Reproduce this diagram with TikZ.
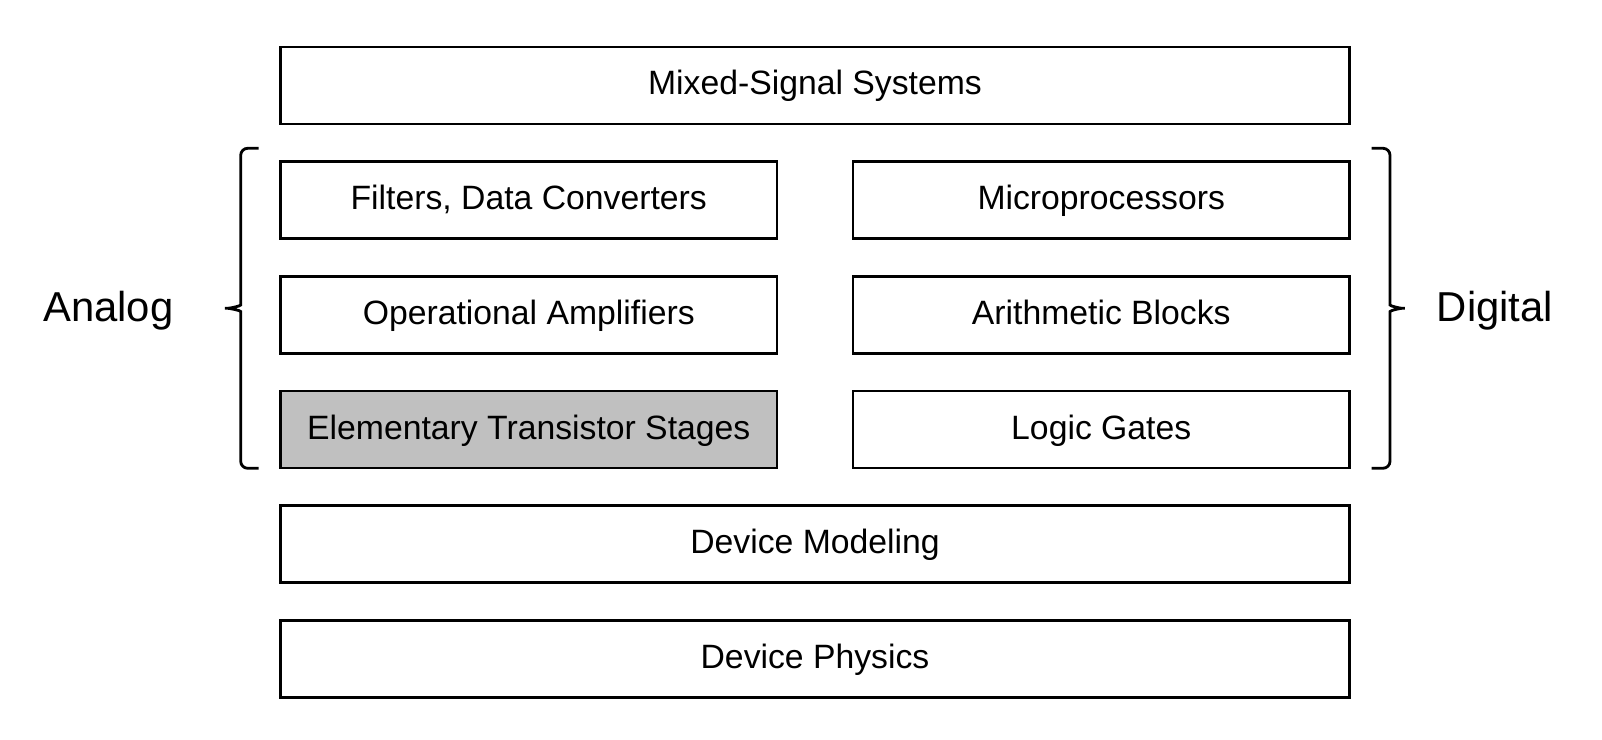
\documentclass[tikz,border=0pt]{standalone}
\usepackage{fontspec}
\setmainfont{Liberation Sans}
\usepackage{xcolor}
\usepackage{tikz}
\usetikzlibrary{positioning,calc}
\definecolor{stagegray}{HTML}{C0C0C0}

\begin{document}
\begin{tikzpicture}[
    level/.style={draw, line width=0.8pt, inner sep=0pt, minimum height=0.77cm,
        text height=0.75em, text depth=0.21em, font=\fontsize{9.6}{11.5}\selectfont},
    wide/.style={level, minimum width=10.69cm},
    half/.style={level, minimum width=4.965cm},
    side/.style={font=\fontsize{11.9}{14}\selectfont, anchor=base},
    brace/.style={line width=0.8pt, rounded corners=2pt}
]
    \useasboundingbox (0,0) rectangle (16.02,7.40);

    % System level
    \node[wide] (mixed) at (8.15,6.545) {Mixed-Signal Systems};

    % Analog column
    \node[half] (filters) at (5.2875,5.398) {Filters, Data Converters};
    \node[half] (opamps) at (5.2875,4.251) {Operational Amplifiers};
    \node[half, fill=stagegray] (stages) at (5.2875,3.104) {Elementary Transistor Stages};

    % Digital column
    \node[half] (micro) at (11.0125,5.398) {Microprocessors};
    \node[half] (arith) at (11.0125,4.251) {Arithmetic Blocks};
    \node[half] (gates) at (11.0125,3.104) {Logic Gates};

    % Device levels
    \node[wide] (model) at (8.15,1.957) {Device Modeling};
    \node[wide] (physics) at (8.15,0.810) {Device Physics};

    % Braces
    \draw[brace] (2.587,5.917) -- (2.407,5.917) -- (2.407,4.42)
        .. controls (2.407,4.34) and (2.30,4.317) .. (2.207,4.317)
        .. controls (2.30,4.317) and (2.407,4.294) .. (2.407,4.214)
        -- (2.407,2.717) -- (2.587,2.717);
    \draw[brace] (13.717,5.917) -- (13.90,5.917) -- (13.90,4.42)
        .. controls (13.90,4.34) and (14.00,4.317) .. (14.09,4.317)
        .. controls (14.00,4.317) and (13.90,4.294) .. (13.90,4.214)
        -- (13.90,2.717) -- (13.717,2.717);

    % Side labels
    \node[side] (analog) at (1.083,4.183) {Analog};
    \node[side] (digital) at (14.95,4.183) {Digital};
\end{tikzpicture}
\end{document}
